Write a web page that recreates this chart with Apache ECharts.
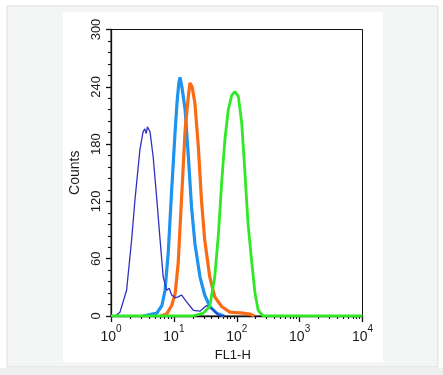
<!DOCTYPE html>
<html><head><meta charset="utf-8">
<style>html,body{margin:0;padding:0;background:#fff;}#c{width:443px;height:375px;}</style>
<script src="https://cdn.jsdelivr.net/npm/echarts@6/dist/echarts.min.js"></script>
</head><body><div id="c"></div>
<script>
// FL1-H values (x) and Counts (y) for each histogram
const navyX  = [1.0, 1.16, 1.39, 1.77, 2.13, 2.40, 2.88, 3.24, 3.45, 3.62, 3.80, 4.17, 4.68, 5.37, 6.03, 6.76, 7.67, 8.4, 9.23, 10.5, 11.7, 13.2, 15.8, 20.4, 26.0, 33.1, 42.7, 51.3, 63];
const navyY  = [0, 0, 4, 27, 80, 121, 174, 193, 196, 191, 198, 193, 167, 121, 80, 41, 27, 29, 22, 19, 20, 22, 15, 6, 5, 11, 6, 1, 0];
const blueX  = [3.24, 5.37, 6.46, 7.24, 8.13, 9.23, 10.5, 11.3, 12.0, 12.5, 13.4, 15.1, 17.0, 19.1, 21.6, 26.0, 30.9, 37.2, 47.9, 63];
const blueY  = [0, 3, 11, 27, 66, 132, 195, 226, 244, 250, 240, 216, 167, 114, 76, 41, 22, 10, 3, 0];
const orangeX = [6.03, 7.67, 9.23, 10.5, 11.7, 13.2, 15.1, 17.0, 18.0, 19.5, 21.6, 24.5, 27.5, 30.9, 37.2, 44.7, 57.5, 77.6, 126, 162, 190];
const orangeY = [0, 2, 11, 24, 55, 121, 195, 230, 244, 240, 223, 177, 121, 80, 41, 20, 10, 4, 3, 2, 0];
const greenX = [1, 20, 29.5, 37.2, 44.7, 51.3, 57.5, 64.6, 73.3, 83.2, 93.3, 106, 120, 135, 151, 174, 195, 219, 263, 10000];
const greenY = [0, 0, 3, 10, 41, 87, 139, 184, 216, 231, 235, 230, 202, 150, 97, 55, 24, 6, 0, 0];
const yTicks = [0, 60, 120, 180, 240, 300];
const xMajor = [1, 10, 100, 1000, 10000];
const xMinor = [];
[1, 10, 100, 1000].forEach(d => { for (let k = 2; k <= 9; k++) xMinor.push(d * k); });

const pair = (xs, ys) => xs.map((x, i) => [x, ys[i]]);
const font = 'Liberation Sans, Arial, sans-serif';
const chart = echarts.init(document.getElementById('c'), null, {renderer: 'canvas'});
const sup = ['0','1','2','3','4'];
chart.setOption({
  backgroundColor: '#ffffff',
  animation: false,
  graphic: [
    {type: 'rect', z: -10, silent: true, shape: {x: 7, y: 6, width: 431, height: 361}, style: {fill: '#f4f6f6', stroke: '#dcdede', lineWidth: 1}},
    {type: 'rect', z: -10, silent: true, shape: {x: 0, y: 368, width: 443, height: 7}, style: {fill: '#eeefef'}},
    {type: 'rect', z: -9, silent: true, shape: {x: 63, y: 12, width: 320, height: 350}, style: {fill: '#ffffff'}}
  ],
  grid: {left: 111, right: 80.5, top: 29.5, bottom: 59, show: true, borderColor: '#111', borderWidth: 1, backgroundColor: 'transparent'},
  xAxis: [{
    type: 'log', logBase: 10, min: 1, max: 10000,
    name: 'FL1-H', nameLocation: 'middle', nameGap: 28,
    nameTextStyle: {fontFamily: font, fontSize: 13, color: '#1a1a1a', padding: [0, 8, 0, 0]},
    axisLine: {show: true, lineStyle: {color: '#111', width: 1.3}},
    axisTick: {show: true, inside: false, length: 6, customValues: xMajor, lineStyle: {color: '#111', width: 1.3}},
    axisLabel: {show: true, customValues: xMajor, margin: 8,
      formatter: v => '{b|10}{s|' + sup[Math.round(Math.log10(v))] + '}',
      rich: {
        b: {fontFamily: font, fontSize: 14, color: '#1a1a1a', lineHeight: 20, verticalAlign: 'bottom'},
        s: {fontFamily: font, fontSize: 10, color: '#1a1a1a', lineHeight: 20, verticalAlign: 'top', padding: [0, 0, 6, 0]}
      }},
    splitLine: {show: false}
  }, {
    type: 'log', logBase: 10, min: 1, max: 10000, gridIndex: 0, position: 'bottom',
    axisLine: {show: false},
    axisTick: {show: true, length: 3, customValues: xMinor, lineStyle: {color: '#111', width: 1.1}},
    axisLabel: {show: false},
    splitLine: {show: false}
  }],
  yAxis: {
    type: 'value', min: 0, max: 300, interval: 60,
    name: 'Counts', nameLocation: 'middle', nameGap: 23, nameRotate: 90,
    nameTextStyle: {fontFamily: font, fontSize: 14, color: '#1a1a1a'},
    axisLine: {show: true, lineStyle: {color: '#111', width: 1.3}},
    axisTick: {show: true, length: 5, lineStyle: {color: '#111', width: 1.3}},
    minorTick: {show: true, splitNumber: 5, length: 3, lineStyle: {color: '#111', width: 1.1}},
    axisLabel: {rotate: 90, margin: 8, fontFamily: font, fontSize: 13, color: '#1a1a1a',
      customValues: yTicks},
    splitLine: {show: false}
  },
  series: [
    {type: 'line', name: 'blue', data: pair(blueX, blueY), showSymbol: false, lineStyle: {color: '#1e93f0', width: 3.2}, z: 2},
    {type: 'line', name: 'orange', data: pair(orangeX, orangeY), showSymbol: false, lineStyle: {color: '#fb6a14', width: 3.2}, z: 3},
    {type: 'line', name: 'navy', data: pair(navyX, navyY), showSymbol: false, lineStyle: {color: '#3131c0', width: 1.3}, z: 4},
    {type: 'line', name: 'green', data: pair(greenX, greenY), showSymbol: false, lineStyle: {color: '#2fe826', width: 2.8}, z: 5}
  ]
});
</script></body></html>
